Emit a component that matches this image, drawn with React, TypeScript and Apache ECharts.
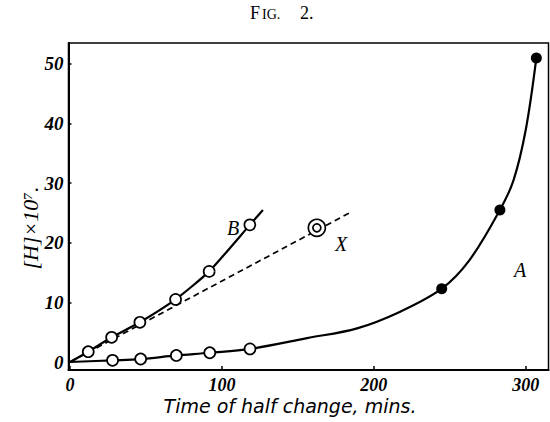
import React, { useEffect, useRef } from "react";
import * as echarts from "echarts";

const xTicks = [0, 100, 200, 300];
const yTicks = [0, 10, 20, 30, 40, 50];

// Curve A (smooth line)
const curveA: [number, number][] = [
  [0, 0], [28, 0.28], [46.5, 0.5], [70, 1.1], [92, 1.55], [118.5, 2.2],
  [156, 4.0], [189, 5.65], [217, 8.4], [244.7, 12.3], [263, 17.1],
  [283, 25.5], [292, 30.5], [300, 38.9], [307, 51],
];
const aOpen: [number, number][] = [
  [28, 0.28], [46.5, 0.5], [70, 1.1], [92, 1.55], [118.5, 2.2],
];
const aFilled: [number, number][] = [
  [244.7, 12.3], [283, 25.5], [307, 51],
];
// Curve B
const curveB: [number, number][] = [
  [0, 0], [12, 1.73], [27.4, 4.14], [46, 6.66], [69.5, 10.5], [91.6, 15.2],
  [118.4, 23.0], [127, 25.5],
];
const bOpen: [number, number][] = [
  [12, 1.73], [27.4, 4.14], [46, 6.66], [69.5, 10.5], [91.6, 15.2], [118.4, 23.0],
];
// Dashed line and point X
const dashed: [number, number][] = [[0, 0], [184, 25.0]];
const pointX: [number, number][] = [[162.5, 22.5]];

const SERIF = "Liberation Serif";

const txt = (x: number, y: number, text: string, size: number, opts: any = {}) => ({
  type: "text", x, y, rotation: opts.rotation || 0,
  style: {
    text, align: opts.align || "center", verticalAlign: "middle",
    fontFamily: opts.family || SERIF, fontStyle: opts.style || "normal",
    fontWeight: opts.weight || "normal", fontSize: size, fill: "#000",
  },
});

export default function App() {
  const ref = useRef<HTMLDivElement>(null);
  useEffect(() => {
    document.body.style.margin = "0";
    const chart = echarts.init(ref.current!, null, { renderer: "svg" });
    chart.setOption({
      animation: false,
      backgroundColor: "#fff",
      grid: {
        left: 68.5, right: 1.5, top: 43, bottom: 52,
        show: true, borderColor: "#000", borderWidth: 1.5, backgroundColor: "transparent",
      },
      xAxis: {
        type: "value", min: -1, max: 315,
        axisLine: { show: true, onZero: false, lineStyle: { color: "#000", width: 2 } },
        axisTick: { show: true, inside: true, length: 4, customValues: xTicks, lineStyle: { color: "#000", width: 1.5 } },
        axisLabel: {
          customValues: xTicks, margin: 6, color: "#000",
          fontFamily: SERIF, fontStyle: "italic", fontWeight: "bold", fontSize: 18,
        },
        splitLine: { show: false },
      },
      yAxis: {
        type: "value", min: -1.34, max: 53.5,
        axisLine: { show: true, onZero: false, lineStyle: { color: "#000", width: 2 } },
        axisTick: { show: true, inside: true, length: 3, customValues: yTicks, lineStyle: { color: "#000", width: 1.5 } },
        axisLabel: {
          customValues: yTicks, margin: 5, color: "#000",
          fontFamily: SERIF, fontStyle: "italic", fontWeight: "bold", fontSize: 19,
        },
        splitLine: { show: false },
      },
      series: [
        {
          type: "line", data: curveA, smooth: 0.35, showSymbol: false,
          lineStyle: { color: "#000", width: 2.2 }, z: 2,
        },
        {
          type: "line", data: curveB, smooth: 0.2, showSymbol: false,
          lineStyle: { color: "#000", width: 2.2 }, z: 2,
        },
        {
          type: "line", data: dashed, showSymbol: false,
          lineStyle: { color: "#000", width: 1.7, type: [6, 4] }, z: 2,
        },
        {
          type: "scatter", data: aOpen, symbol: "circle", symbolSize: 11,
          itemStyle: { color: "#fff", borderColor: "#000", borderWidth: 1.7, opacity: 1 }, z: 3,
        },
        {
          type: "scatter", data: bOpen, symbol: "circle", symbolSize: 11,
          itemStyle: { color: "#fff", borderColor: "#000", borderWidth: 1.7, opacity: 1 }, z: 3,
        },
        {
          type: "scatter", data: aFilled, symbol: "circle", symbolSize: 11,
          itemStyle: { color: "#000", opacity: 1 }, z: 3,
        },
        {
          type: "scatter", data: pointX, symbol: "circle", symbolSize: 17,
          itemStyle: { color: "#fff", borderColor: "#000", borderWidth: 1.7, opacity: 1 }, z: 3,
        },
        {
          type: "scatter", data: pointX, symbol: "circle", symbolSize: 8,
          itemStyle: { color: "#fff", borderColor: "#000", borderWidth: 1.7, opacity: 1 }, z: 4,
        },
      ],
      graphic: [
        txt(250, 13, "F", 18, { align: "left" }),
        txt(262, 14.5, "IG.", 14, { align: "left" }),
        txt(300, 13, "2.", 18, { align: "left" }),
        txt(30, 228, "[H]×10⁷.", 22, { style: "italic" , rotation: Math.PI / 2 }),
        txt(290, 406, "Time of half change, mins.", 19, { style: "italic", family: "DejaVu Sans" }),
        txt(233, 228, "B", 20, { style: "italic" }),
        txt(341, 244, "X", 20, { style: "italic" }),
        txt(520, 270, "A", 20, { style: "italic" }),
      ],
    });
    return () => chart.dispose();
  }, []);
  return <div ref={ref} style={{ width: 550, height: 422 }} />;
}
